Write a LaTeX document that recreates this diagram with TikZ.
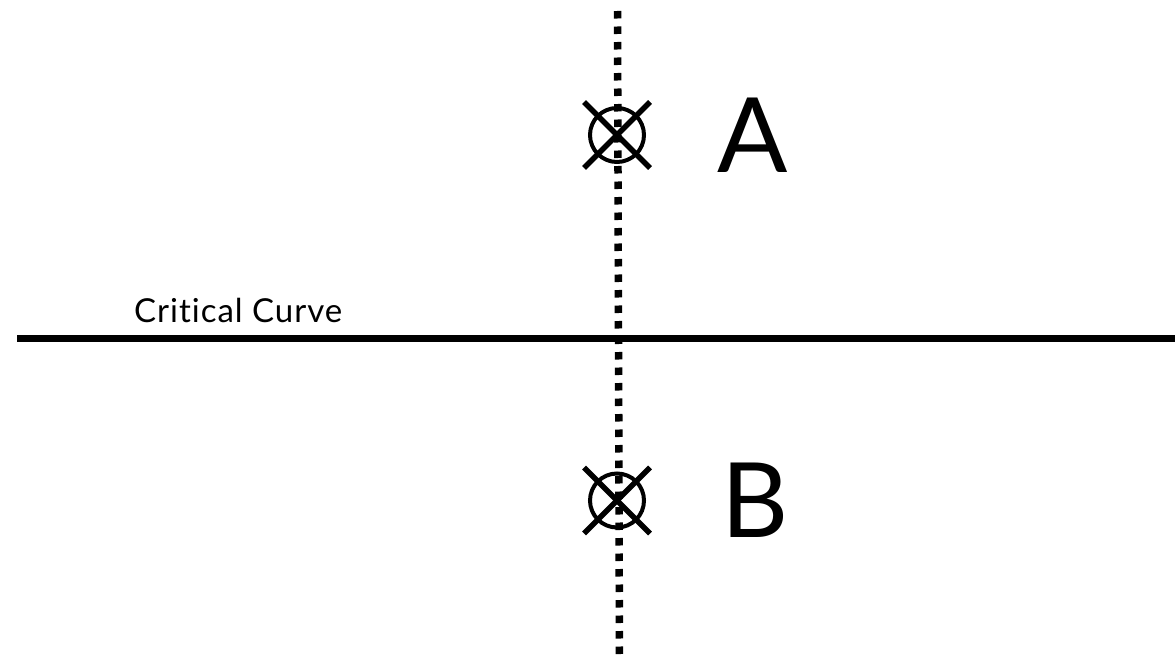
\documentclass[tikz,border=0pt]{standalone}
\usepackage{fontspec}
\setmainfont{Lato}[Ligatures={NoCommon}]
\begin{document}
\begin{tikzpicture}[x=1pt,y=-1pt,
  axis/.style={line width=7pt},
  dotline/.style={line width=7.5pt,dash pattern=on 7.5pt off 8pt},
  ring/.style={draw,circle,line width=4pt,minimum size=54pt,inner sep=0pt},
  crossln/.style={line width=5.5pt},
  biglabel/.style={font=\fontsize{104}{104}\selectfont,inner sep=0pt,anchor=base west},
  smalllabel/.style={font=\fontsize{33}{33}\selectfont\addfontfeatures{LetterSpace=3}, inner sep=0pt,anchor=base west}]
\useasboundingbox (0,0) rectangle (1175,661);
\coordinate (h1) at (17,338.5);
\coordinate (h2) at (1175,338.5);
\draw[axis] (h1) -- (h2);
\coordinate (v1) at (617.5,11);
\coordinate (v2) at (619.5,661);
\draw[dotline] (v1) -- (v2);
% marker A
\node[ring] (ma) at (617,135) {};
\draw[crossln] ([shift={(-33,33)}]ma.center) -- ([shift={(33,-33)}]ma.center);
\draw[crossln] ([shift={(-33,-33)}]ma.center) -- ([shift={(33,33)}]ma.center);
% marker B
\node[ring] (mb) at (617,500.5) {};
\draw[crossln] ([shift={(-33,33)}]mb.center) -- ([shift={(33,-33)}]mb.center);
\draw[crossln] ([shift={(-33,-33)}]mb.center) -- ([shift={(33,33)}]mb.center);
\node[biglabel] (la) at (717,172) {A};
\node[biglabel] (lb) at (721,537) {B};
\node[smalllabel] (cc) at (134,322) {Critical Curve};
\end{tikzpicture}
\end{document}
